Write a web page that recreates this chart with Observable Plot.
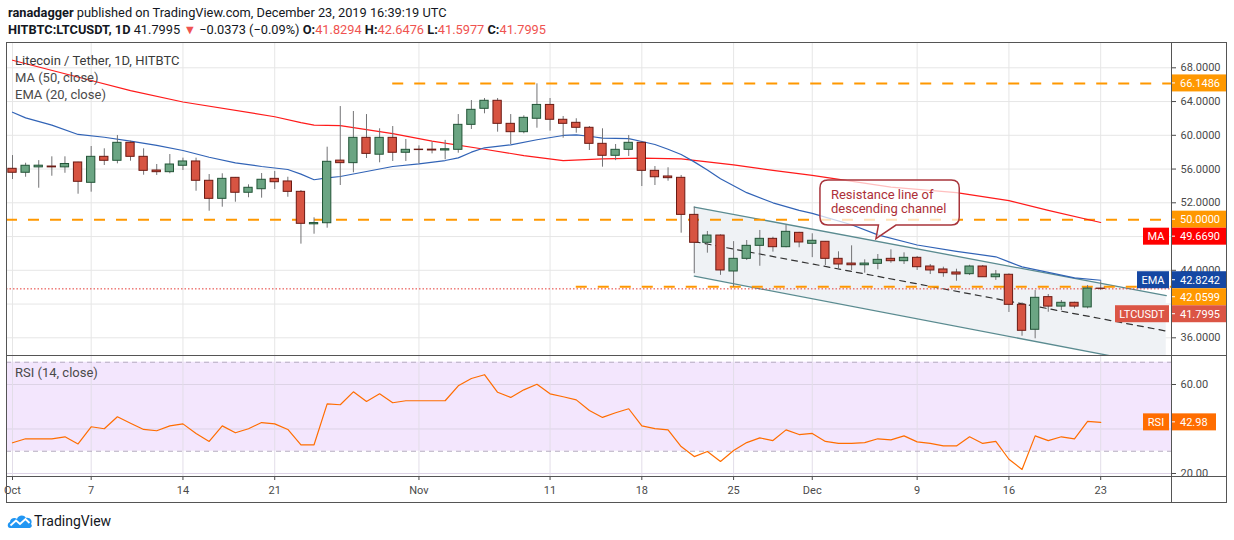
<!DOCTYPE html>
<html>
<head>
<meta charset="utf-8">
<script src="https://cdn.jsdelivr.net/npm/d3@7"></script>
<script src="https://cdn.jsdelivr.net/npm/@observablehq/plot@0.6"></script>
<style>
  html,body{margin:0;padding:0;background:#fff;}
  #root{position:relative;width:1234px;height:540px;overflow:hidden;font-family:Roboto,"Noto Sans",sans-serif;color:#131722;}
  .abs{position:absolute;white-space:nowrap;}
  .hdr{font-size:12.8px;line-height:16px;left:8px;}
  .hdr b{font-weight:700;}
  .red{color:#ef5350;}
  .leg{font-size:13px;line-height:16px;color:#4a4a4a;left:15px;}
  .ln{position:absolute;background:#555;}
</style>
</head>
<body>
<div id="root">
  <div class="abs hdr" id="h1" style="top:5px"></div>
  <div class="abs hdr" id="h2" style="top:22px"></div>
  <div id="main" class="abs" style="left:6px;top:42px"></div>
  <div id="rsi" class="abs" style="left:6px;top:355px"></div>
  <div class="abs leg" style="top:53px;color:#3a3a3a">Litecoin / Tether, 1D, HITBTC</div>
  <div class="abs leg" style="top:70px">MA (50, close)</div>
  <div class="abs leg" style="top:87px">EMA (20, close)</div>
  <div class="abs leg" style="top:365px">RSI (14, close)</div>
  <div class="ln" style="left:6px;top:42px;width:1221px;height:1px"></div>
  <div class="ln" style="left:6px;top:355px;width:1221px;height:1px"></div>
  <div class="ln" style="left:6px;top:476px;width:1221px;height:1px"></div>
  <div class="ln" style="left:6px;top:502px;width:1221px;height:1px"></div>
  <div class="ln" style="left:6px;top:42px;width:1px;height:461px"></div>
  <div class="ln" style="left:1171px;top:42px;width:1px;height:461px"></div>
  <div class="ln" style="left:1226px;top:42px;width:1px;height:461px"></div>
  <svg class="abs" style="left:7px;top:512px" width="26" height="18" viewBox="0 0 26 18">
    <path d="M3,16 C0,16 0,11 3,10 C3,6 8,5 10,7 C11,3 17,2 19,6 C23,5 26,9 24,12 C26,14 24,16 22,16 Z" fill="#2196f3"/>
    <path d="M3.5,13.5 L9,8.5 L13,12 L18.5,7 L22.5,11" stroke="#fff" stroke-width="1.8" fill="none"/>
  </svg>
  <div class="abs" style="left:34px;top:513px;font-size:14px;line-height:16px;color:#131722">TradingView</div>
</div>
<script>
// ---------------- data ----------------
const startDay = "2019-10-01";
const open = [
  56.03, 55.56, 56.2, 56.3, 56.2, 56.78, 54.37, 57.45, 56.98, 59.11,
  57.45, 55.83, 55.63, 56.39, 56.9, 54.61, 52.47, 54.96, 53.19, 53.61,
  54.84, 54.53, 53.3, 49.45, 49.58, 57.0, 56.7, 59.7, 57.7, 59.7,
  57.93, 58.3, 58.3, 58.2, 58.28, 61.24, 63.14, 64.09, 61.36, 60.37,
  61.96, 63.6, 61.84, 61.48, 60.89, 58.99, 57.57, 58.28, 59.11, 55.79,
  55.12, 54.96, 50.57, 47.26, 48.12, 43.86, 45.36, 46.9, 47.73, 46.74,
  48.44, 47.14, 47.38, 45.36, 44.8, 44.6, 44.77, 45.36, 45.08, 45.48,
  44.45, 44.1, 43.74, 43.54, 44.45, 43.18, 43.47, 39.91, 36.95, 40.82,
  39.7, 40.15, 39.6, 41.8294];
const high = [
  57.6, 56.69, 57.0, 57.45, 57.45, 56.8, 58.67, 58.4, 59.98, 59.3,
  58.4, 56.54, 57.72, 57.29, 57.29, 55.35, 55.44, 55.0, 54.13, 55.47,
  55.71, 55.03, 53.46, 50.22, 58.59, 63.41, 62.82, 62.46, 60.77, 61.04,
  59.5, 58.75, 59.2, 59.4, 62.46, 64.12, 64.36, 64.36, 62.46, 62.31,
  66.1, 64.36, 62.23, 61.96, 61.04, 60.77, 58.91, 59.98, 59.2, 56.3,
  56.15, 55.24, 51.48, 48.6, 48.2, 47.4, 47.53, 48.72, 47.92, 49.34,
  48.5, 48.33, 47.4, 46.19, 46.9, 45.24, 45.87, 46.43, 46.07, 45.64,
  44.69, 44.37, 44.13, 44.6, 44.57, 43.98, 43.58, 40.15, 41.6, 41.13,
  40.42, 40.22, 42.2, 42.6476];
const low = [
  54.76, 55.03, 53.73, 55.15, 55.5, 53.02, 53.26, 56.42, 56.62, 56.93,
  55.27, 55.24, 55.44, 55.83, 53.37, 51.0, 51.48, 52.07, 52.6, 52.55,
  53.58, 52.66, 47.1, 48.28, 48.99, 54.05, 55.56, 57.25, 56.74, 56.9,
  56.9, 56.6, 57.8, 57.1, 57.88, 60.69, 62.55, 60.37, 58.91, 60.18,
  60.84, 60.49, 59.66, 60.25, 58.2, 56.22, 57.0, 57.49, 53.93, 54.05,
  54.56, 48.4, 43.6, 46.03, 43.4, 42.0, 45.16, 44.48, 46.15, 46.67,
  46.67, 45.5, 44.57, 44.18, 43.98, 43.66, 44.06, 44.84, 44.69, 43.98,
  43.5, 43.18, 42.7, 43.38, 43.18, 42.8, 39.0, 36.19, 35.88, 39.03,
  39.23, 39.43, 39.43, 41.5977];
const close = [
  55.56, 56.39, 56.4, 56.2, 56.6, 54.49, 57.45, 56.98, 59.11, 57.45,
  55.79, 55.63, 56.54, 56.9, 54.61, 52.47, 54.84, 53.19, 53.78, 54.73,
  54.44, 53.3, 49.51, 49.6, 56.86, 56.7, 59.7, 57.8, 59.7, 57.93,
  58.28, 58.25, 58.2, 58.35, 61.24, 63.02, 64.09, 61.36, 60.37, 62.07,
  63.6, 61.84, 61.36, 60.89, 58.99, 57.57, 58.28, 59.11, 55.79, 55.03,
  54.92, 50.57, 47.26, 48.12, 43.98, 45.36, 46.9, 47.73, 46.74, 48.56,
  47.3, 47.5, 45.36, 44.69, 44.6, 44.8, 45.24, 45.08, 45.48, 44.37,
  43.98, 43.66, 43.5, 44.45, 43.18, 43.5, 39.91, 36.83, 40.74, 39.7,
  40.15, 39.7, 41.8368, 41.7995];
const rsi = [
  33.8, 35.6, 35.6, 35.6, 36.5, 33.3, 41.0, 40.1, 45.5, 42.6,
  39.8, 39.2, 41.4, 42.3, 38.0, 34.4, 41.4, 38.3, 40.1, 42.9,
  42.3, 39.8, 32.9, 32.9, 51.3, 50.9, 56.7, 52.4, 55.8, 51.8,
  52.7, 52.7, 52.7, 52.7, 59.4, 62.7, 64.4, 56.5, 54.2, 57.6,
  60.1, 55.8, 54.5, 53.1, 48.3, 45.2, 47.3, 49.1, 41.4, 40.2,
  39.6, 32.1, 27.6, 29.9, 25.4, 30.3, 33.9, 36.0, 34.8, 39.6,
  37.5, 38.0, 34.4, 33.5, 33.5, 33.9, 35.6, 35.1, 36.9, 34.2,
  33.5, 32.4, 32.4, 36.5, 33.5, 34.4, 26.4, 21.8, 36.9, 34.8,
  36.5, 35.6, 43.4, 42.98];
// MA(50) and EMA(20): day offset from startDay, value
const maDay = [0, 6, 9, 13, 20, 22, 23, 25, 29, 32, 36, 39, 42, 45, 48, 51, 55, 58, 61, 67, 72, 76, 79, 83];
const maVal = [68.9, 66.5, 65.3, 63.95, 62.2, 61.5, 61.2, 61.15, 60.2, 59.3, 58.35, 57.6, 57.0, 57.2, 57.3, 57.2, 56.5, 55.85, 55.25, 53.85, 53.2, 52.25, 51.1, 49.669];
const emaDay = [0, 1, 3, 5, 7, 9, 11, 13, 15, 17, 19, 21, 22, 23, 24, 25, 27, 29, 31, 33, 34, 35, 36, 38, 40, 42, 43, 44, 45, 47, 48, 49, 50, 51, 52, 53, 54, 56, 58, 60, 61, 64, 66, 69, 72, 75, 76, 77, 79, 81, 83];
const emaVal = [62.74, 62.07, 61.2, 60.1, 59.77, 59.3, 58.8, 58.2, 57.4, 56.74, 56.3, 55.95, 55.4, 54.73, 54.96, 55.12, 55.71, 56.3, 56.62, 57.01, 57.33, 58.0, 58.52, 58.87, 59.47, 59.98, 60.06, 59.89, 59.66, 59.6, 59.27, 58.91, 58.35, 57.72, 56.85, 55.9, 54.84, 53.2, 52.0, 51.1, 50.75, 49.4, 48.2, 47.0, 46.25, 45.6, 45.0, 44.4, 43.75, 43.1, 42.8242];
// Descending channel drawing (start / end)
const channelDates = ["2019-11-22", "2019-12-28"];
const channelTop = [51.5, 41.0];
const channelMid = [47.4, 36.8];
const channelBottom = [43.3, 32.6];
// Horizontal levels
const levelPrices = [66.1486, 50.0, 42.0599];
const levelStarts = ["2019-10-30", null, "2019-11-13"];
// axes
const priceGrid = [36, 40, 44, 48, 52, 56, 60, 64, 68];
const priceTickLabels = [36, 44, 52, 56, 60, 64, 68]; // 40 and 48 sit under the value tags
const rsiGrid = [20, 40, 60];
const rsiTickLabels = [20, 60];                       // 40 sits under the RSI tag
const rsiBands = [30, 70];
const tickDates = ["2019-10-01","2019-10-07","2019-10-14","2019-10-21","2019-11-01","2019-11-11","2019-11-18","2019-11-25","2019-12-01","2019-12-09","2019-12-16","2019-12-23"];
const tickLabels = ["Oct","7","14","21","Nov","11","18","25","Dec","9","16","23"];
const calloutLines = ["Resistance line of", "descending channel"];
const calloutAnchor = {date: "2019-12-05T21:30Z", price: 47.7};
const headerLine1 = ["ranadagger", " published on TradingView.com, December 23, 2019 16:39:19 UTC"];
const symbolName = "HITBTC:LTCUSDT, 1D";
const change = ["−0.0373", "(−0.09%)"];

// ---------------- build ----------------
const t0 = new Date(startDay + "T00:00Z");
const DAY = 864e5;
const dayAt = k => new Date(+t0 + k * DAY);
const days = d3.range(open.length).map(dayAt);
const candles = days.map((d, i) => ({date: d, open: open[i], high: high[i], low: low[i], close: close[i]}));
const rsiRows = days.map((d, i) => ({date: d, v: rsi[i]}));
const maRows = maDay.map((k, i) => ({date: dayAt(k), v: maVal[i]}));
const emaRows = emaDay.map((k, i) => ({date: dayAt(k), v: emaVal[i]}));
const channel = channelDates.map((s, i) => ({date: new Date(s + "T00:00Z"), top: channelTop[i], mid: channelMid[i], bottom: channelBottom[i]}));
const xDomain = [new Date(Date.UTC(2019, 8, 30, 13)), new Date(Date.UTC(2019, 11, 28, 9, 36))];
const levels = levelPrices.map((p, i) => ({price: p, from: levelStarts[i] ? new Date(levelStarts[i] + "T00:00Z") : xDomain[0]}));
const tickDateObjs = tickDates.map(s => new Date(s + "T00:00Z"));
const lastClose = close[close.length - 1];
const half = 7.6 * 3600e3;

const W = 1221, mainH = 313, rsiH = 148, mR = 56;
const gridColor = "#e6e6e6";
const chanColor = "#5a8b90";
const font = "Roboto, 'Noto Sans', sans-serif";
const baseStyle = {background: "transparent", fontFamily: font, fontSize: "11px", color: "#4a4a4a", overflow: "visible", display: "block"};

const up = d => d.close >= d.open;
const main = Plot.plot({
  width: W, height: mainH,
  marginLeft: 0, marginRight: mR, marginTop: 0, marginBottom: 0,
  style: baseStyle,
  x: {type: "utc", domain: xDomain, axis: null},
  y: {domain: [33.903, 70.999], axis: "right", ticks: priceTickLabels, tickFormat: d => d.toFixed(4), tickSize: 4, tickPadding: 5, label: null},
  marks: [
    Plot.ruleY(priceGrid, {stroke: gridColor}),
    Plot.ruleX(tickDateObjs, {stroke: gridColor}),
    Plot.areaY(channel, {x: "date", y1: "bottom", y2: "top", fill: "#eff2f5", clip: true}),
    Plot.line(channel, {x: "date", y: "top", stroke: chanColor, strokeWidth: 1.3, clip: true}),
    Plot.line(channel, {x: "date", y: "bottom", stroke: chanColor, strokeWidth: 1.3, clip: true}),
    Plot.line(channel, {x: "date", y: "mid", stroke: "#333", strokeWidth: 1.2, strokeDasharray: "6,5", clip: true}),
    Plot.ruleY(levels, {y: "price", x1: "from", x2: () => xDomain[1], stroke: "#ff9800", strokeWidth: 2, strokeDasharray: "11,11"}),
    Plot.ruleY([lastClose], {stroke: "#e53935", strokeWidth: 1, strokeDasharray: "1.5,2"}),
    Plot.line(maRows, {x: "date", y: "v", stroke: "#ff1a1a", strokeWidth: 1.2}),
    Plot.line(emaRows, {x: "date", y: "v", stroke: "#3163b6", strokeWidth: 1.2}),
    Plot.ruleX(candles, {x: "date", y1: "low", y2: "high", stroke: "#737375"}),
    Plot.rect(candles.filter(up), {x1: d => new Date(+d.date - half), x2: d => new Date(+d.date + half), y1: "open", y2: "close", fill: "#6ba583", stroke: "#225437", strokeWidth: 1}),
    Plot.rect(candles.filter(d => !up(d)), {x1: d => new Date(+d.date - half), x2: d => new Date(+d.date + half), y1: "open", y2: "close", fill: "#d75442", stroke: "#6b1a13", strokeWidth: 1})
  ]
});
document.getElementById("main").appendChild(main);

const rsiChart = Plot.plot({
  width: W, height: rsiH,
  marginLeft: 0, marginRight: mR, marginTop: 0, marginBottom: 27,
  style: baseStyle,
  x: {type: "utc", domain: xDomain, ticks: tickDateObjs, tickFormat: d => tickLabels[tickDateObjs.findIndex(t => +t === +d)], tickSize: 4, tickPadding: 6, label: null},
  y: {domain: [18.65, 73.03], axis: "right", ticks: rsiTickLabels, tickFormat: d => d.toFixed(2), tickSize: 4, tickPadding: 5, label: null},
  marks: [
    Plot.rectY([rsiBands], {x1: () => xDomain[0], x2: () => xDomain[1], y1: d => d[0], y2: d => d[1], fill: "#f3e6fd"}),
    Plot.ruleY(rsiGrid, {stroke: "#ddd3e6"}),
    Plot.ruleX(tickDateObjs, {stroke: "#e2dde8", y1: 18.65, y2: 73.03}),
    Plot.ruleY(rsiBands, {stroke: "#b5abc0", strokeDasharray: "5,4"}),
    Plot.line(rsiRows, {x: "date", y: "v", stroke: "#ff6d00", strokeWidth: 1.2})
  ]
});
document.getElementById("rsi").appendChild(rsiChart);

// ---------------- price-axis labels ----------------
function drawLabels(chart, items, boxW) {
  const svg = d3.select(chart);
  const ys = chart.scale("y");
  const xR = W - mR; // axis x in svg coords
  const h = 17;
  const rows = items.map(d => ({...d, y: ys.apply(d.v)})).sort((a, b) => a.y - b.y);
  let prev = -Infinity;
  for (const r of rows) { r.y = Math.max(r.y, prev + h); prev = r.y; }
  const g = svg.append("g").attr("font-family", font).attr("font-size", 11).attr("text-anchor", "start");
  for (const r of rows) {
    g.append("rect").attr("x", xR).attr("y", r.y - h / 2).attr("width", boxW).attr("height", h).attr("fill", r.bg);
    g.append("line").attr("x1", xR).attr("x2", xR + 4).attr("y1", r.y).attr("y2", r.y).attr("stroke", "#fff");
    g.append("text").attr("x", xR + 9).attr("y", r.y).attr("dy", "0.36em").attr("text-anchor", "start").attr("fill", "#fff").text(r.label);
    if (r.tag) {
      g.append("rect").attr("x", xR - 2 - r.tagW).attr("y", r.y - h / 2).attr("width", r.tagW).attr("height", h).attr("fill", r.bg);
      g.append("text").attr("x", xR - 2 - r.tagW / 2).attr("y", r.y).attr("dy", "0.36em").attr("text-anchor", "middle").attr("fill", "#fff").text(r.tag);
    }
  }
}
const orange = "#ff9800";
const maLast = maVal[maVal.length - 1], emaLast = emaVal[emaVal.length - 1];
drawLabels(main, [
  {v: levelPrices[0], label: levelPrices[0].toFixed(4), bg: orange},
  {v: levelPrices[1], label: levelPrices[1].toFixed(4), bg: orange},
  {v: maLast, label: maLast.toFixed(4), bg: "#ff0000", tag: "MA", tagW: 26},
  {v: emaLast, label: emaLast.toFixed(4), bg: "#1447a3", tag: "EMA", tagW: 32},
  {v: levelPrices[2], label: levelPrices[2].toFixed(4), bg: orange},
  {v: lastClose, label: lastClose.toFixed(4), bg: "#db5545", tag: "LTCUSDT", tagW: 54}
], 56);
const rsiLast = rsi[rsi.length - 1];
drawLabels(rsiChart, [{v: rsiLast, label: rsiLast.toFixed(2), bg: "#ff6d00", tag: "RSI", tagW: 26}], 45);

// ---------------- callout ----------------
(function () {
  const svg = d3.select(main);
  const cx = main.scale("x").apply(new Date(calloutAnchor.date));
  const cy = main.scale("y").apply(calloutAnchor.price);
  const L = cx - 56, R = cx + 83.3, T = cy - 58.5, B = cy - 13.5, r = 8, t1 = cx + 2.5, t2 = cx + 20;
  const p = `M${L + r},${T} H${R - r} Q${R},${T} ${R},${T + r} V${B - r} Q${R},${B} ${R - r},${B} H${t2} L${cx},${cy} L${t1},${B} H${L + r} Q${L},${B} ${L},${B - r} V${T + r} Q${L},${T} ${L + r},${T} Z`;
  svg.append("path").attr("d", p).attr("fill", "rgba(255,255,255,0.72)").attr("stroke", "#a8343b").attr("stroke-width", 1.5);
  calloutLines.forEach((s, i) =>
    svg.append("text").attr("font-family", font).attr("font-size", 13).attr("text-anchor", "start").attr("fill", "#ad2f38")
      .attr("x", L + 11).attr("y", T + 18.5 + i * 14).text(s));
})();

// ---------------- header ----------------
const red = s => `<span class="red">${s}</span>`;
document.getElementById("h1").innerHTML = `<b>${headerLine1[0]}</b>${headerLine1[1]}`;
document.getElementById("h2").innerHTML =
  `<b>${symbolName}</b> ${lastClose.toFixed(4)} ${red("▼")} ${change[0]} ${change[1]} ` +
  `<b>O:</b>${red(open[open.length - 1].toFixed(4))} <b>H:</b>${red(high[high.length - 1].toFixed(4))} ` +
  `<b>L:</b>${red(low[low.length - 1].toFixed(4))} <b>C:</b>${red(lastClose.toFixed(4))}`;
</script>
</body>
</html>
